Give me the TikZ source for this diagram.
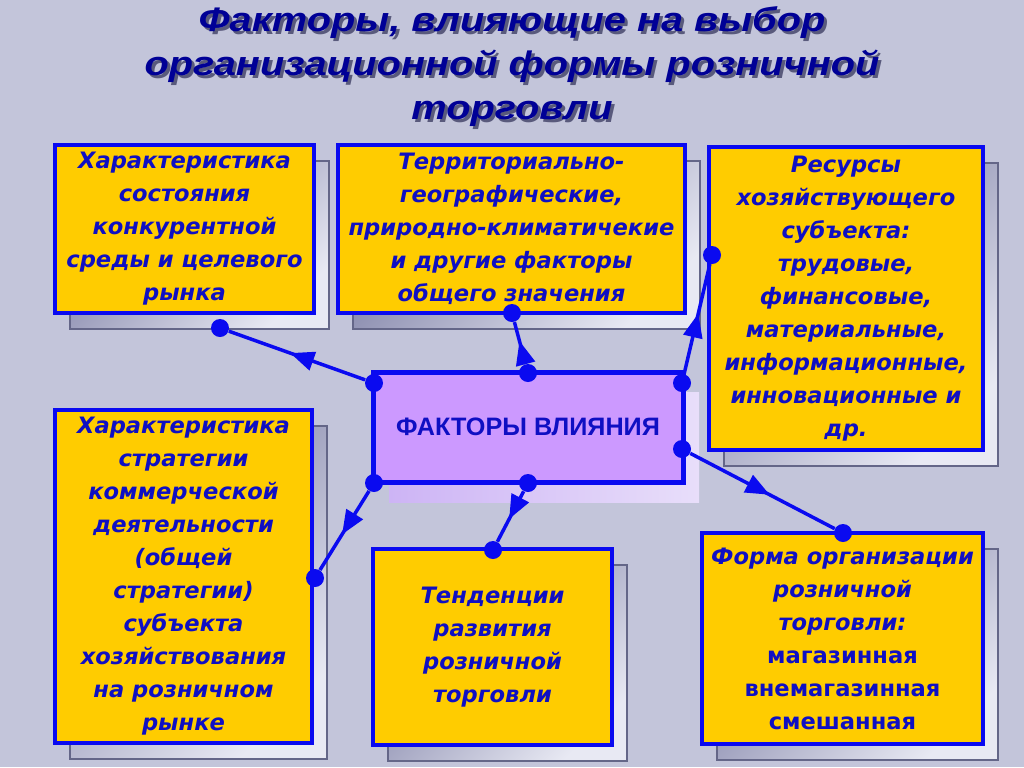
\documentclass[tikz,border=0pt]{standalone}
\usepackage{fontspec}
\usetikzlibrary{shapes, arrows.meta, shadows, decorations.markings}

\newfontfamily\boxfont{DejaVu Sans}
\newfontfamily\headfont[FakeStretch=1.17]{Liberation Sans}
\newfontfamily\hubfont{Liberation Sans}

\definecolor{slidebg}{RGB}{195,197,218}
\definecolor{boxgold}{RGB}{255,204,0}
\definecolor{lineblue}{RGB}{10,10,240}
\definecolor{textblue}{RGB}{15,15,195}
\definecolor{titleblue}{RGB}{0,0,150}
\definecolor{titleshade}{RGB}{45,45,85}
\definecolor{hublilac}{RGB}{204,153,255}
\definecolor{hubshadeA}{RGB}{205,180,245}
\definecolor{hubshadeB}{RGB}{232,222,250}
\definecolor{shadedark}{RGB}{118,120,160}
\definecolor{shadelight}{RGB}{232,233,243}

\begin{document}
\begin{tikzpicture}[x=0.5pt, y=-0.5pt,
    factor/.style={draw=lineblue, line width=2pt, fill=boxgold, rectangle, align=center,
        text=textblue, inner sep=0pt,
        font=\boxfont\bfseries\itshape\fontsize{11.3}{16.5}\selectfont,
        general shadow={shadow xshift=7.5pt, shadow yshift=-8pt, line width=0.6pt,
            draw=shadedark!85!black, top color=shadedark, bottom color=shadelight, shading angle=45}},
    hub/.style={draw=lineblue, line width=2.5pt, fill=hublilac, rectangle, align=center,
        text=textblue, font=\hubfont\bfseries\fontsize{12.6}{15}\selectfont,
        general shadow={shadow xshift=8pt, shadow yshift=-10pt,
            left color=hubshadeA, right color=hubshadeB}},
    heading/.style={align=center, font=\headfont\bfseries\itshape\fontsize{17}{22}\selectfont},
    dot/.style={circle, fill=lineblue, inner sep=0pt, minimum size=9pt},
    link/.style={draw=lineblue, line width=1.75pt,
        decoration={markings, mark=at position 0.55 with {\arrow{Triangle[length=12pt, width=9.5pt]}}},
        postaction={decorate}}
]

% --- 1. SLIDE AND TITLE ---
\useasboundingbox (0,0) rectangle (1024,767);
\fill[slidebg] (0,0) rectangle (1024,767);

\node[heading, text=titleshade, opacity=0.7] (headshade) at (515,70)
    {Факторы, влияющие на выбор\\организационной формы розничной\\торговли};
\node[heading, text=titleblue] (head) at (512,67)
    {Факторы, влияющие на выбор\\организационной формы розничной\\торговли};

% --- 2. FACTOR BOXES ---
\node[factor, minimum width=129.5pt, minimum height=84pt] (compet) at (184.5,229)
    {Характеристика\\состояния\\конкурентной\\среды и целевого\\рынка};
\node[factor, minimum width=173.5pt, minimum height=84pt] (geo) at (511.5,229)
    {Территориально-\\географические,\\природно-климатичекие\\и другие факторы\\общего значения};
\node[factor, minimum width=137pt, minimum height=151.5pt] (res) at (846,298.5)
    {Ресурсы\\хозяйствующего\\субъекта:\\трудовые,\\финансовые,\\материальные,\\информационные,\\инновационные и\\др.};
\node[factor, minimum width=128.5pt, minimum height=166.5pt] (strat) at (183.5,576.5)
    {Характеристика\\стратегии\\коммерческой\\деятельности\\(общей\\стратегии)\\субъекта\\хозяйствования\\на розничном\\рынке};
\node[factor, minimum width=119.5pt, minimum height=98pt] (trend) at (492.5,647)
    {Тенденции\\развития\\розничной\\торговли};
\node[factor, minimum width=140.5pt, minimum height=105.5pt] (form) at (842.5,638.5)
    {Форма организации\\розничной\\торговли:\\{\upshape магазинная}\\{\upshape внемагазинная}\\{\upshape смешанная}};

% --- 3. CENTRAL BLOCK ---
\node[hub, minimum width=155pt, minimum height=55pt] (factors) at (528,427) {ФАКТОРЫ ВЛИЯНИЯ};

% --- 4. CONNECTORS ---
% dots on the central block
\node[dot] (c1) at (374,383) {};
\node[dot] (c2) at (528,373) {};
\node[dot] (c3) at (682,383) {};
\node[dot] (c4) at (682,449) {};
\node[dot] (c5) at (528,483) {};
\node[dot] (c6) at (374,483) {};
% dots on the outer boxes
\node[dot] (o1) at (220,328) {};
\node[dot] (o2) at (512,313) {};
\node[dot] (o3) at (712,255) {};
\node[dot] (o4) at (843,533) {};
\node[dot] (o5) at (493,550) {};
\node[dot] (o6) at (315,578) {};

\draw[link] (c1) -- (o1);
\draw[link] (c2) -- (o2);
\draw[link] (c3) -- (o3);
\draw[link] (c4) -- (o4);
\draw[link] (c5) -- (o5);
\draw[link] (c6) -- (o6);

\end{tikzpicture}
\end{document}
